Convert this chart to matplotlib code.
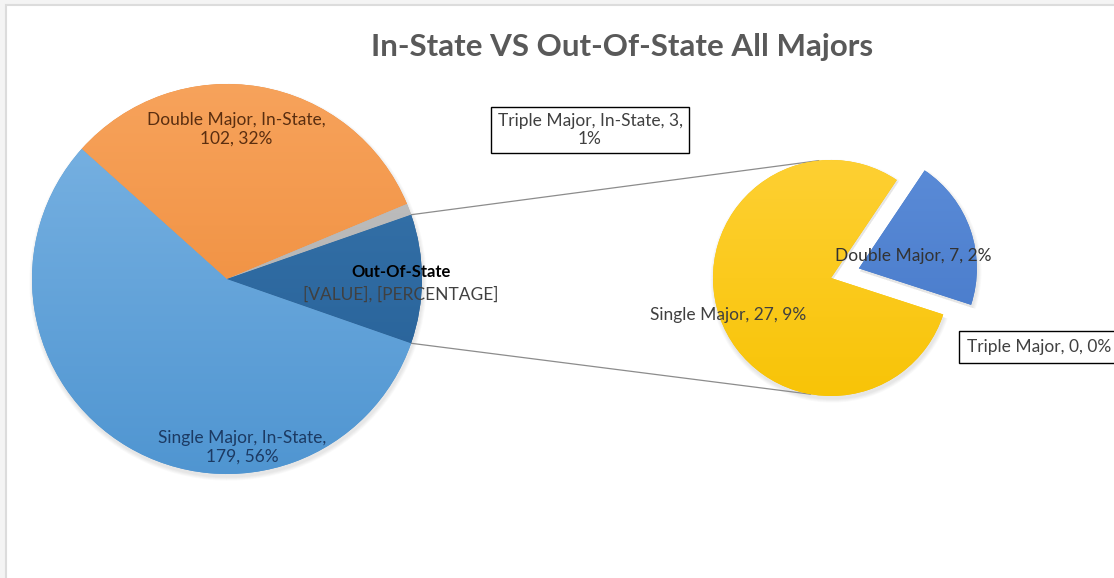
import matplotlib
matplotlib.use("Agg")
import matplotlib.pyplot as plt
import numpy as np
from matplotlib.patches import Rectangle, Wedge
from matplotlib.colors import to_rgb

# ---------------- data ----------------
main_names = ["Single Major, In-State", "Double Major, In-State", "Triple Major, In-State", "Out-Of-State"]
main_values = [179, 102, 3, 34]
main_pcts = ["56%", "32%", "1%", "[PERCENTAGE]"]

sub_names = ["Single Major", "Double Major", "Triple Major"]
sub_values = [27, 7, 0]
sub_pcts = ["9%", "2%", "0%"]

title = "In-State VS Out-Of-State All Majors"

# ---------------- style ----------------
W, H = 1114, 578
plt.rcParams['font.family'] = ['Lato', 'DejaVu Sans']
fig = plt.figure(figsize=(W / 100, H / 100), dpi=100)
fig.patch.set_facecolor("#f4f4f4")
ax = fig.add_axes([0, 0, 1, 1])


def Y(py):
    return H - py


def reset():
    ax.set_xlim(0, W)
    ax.set_ylim(0, H)
    ax.set_aspect("equal")
    ax.axis("off")


reset()
ax.add_patch(Rectangle((6, -10), W + 20, Y(5) + 10, facecolor="white",
                       edgecolor="#dcdcdc", linewidth=1.5, zorder=0))

# (top colour, bottom colour) gradients
main_grad = [("#7db5e4", "#4f95d1"), ("#f7a35c", "#ec8530"),
             ("#c4c4c4", "#a9a9a9"), ("#3a78b0", "#235c92")]
sub_grad = [("#ffd23a", "#f7c200"), ("#5f8fda", "#3f73c5"), ("#a0a0a0", "#a0a0a0")]


def shadows(wedges):
    for w in wedges:
        if abs(w.theta2 - w.theta1) < 1e-6:
            continue
        for k in range(5):
            ax.add_patch(Wedge((w.center[0] + 1, w.center[1] - 3), w.r + 0.5 + k * 0.8,
                               w.theta1, w.theta2, facecolor="black",
                               edgecolor="none", alpha=0.02, zorder=1))


def gradient_fill(wedges, grads, center, r, pad):
    x0, x1 = center[0] - r - pad, center[0] + r + pad
    y0, y1 = center[1] - r - pad, center[1] + r + pad
    t = np.linspace(0, 1, 256)[:, None, None]
    for w, (ctop, cbot) in zip(wedges, grads):
        a, b = np.array(to_rgb(ctop)), np.array(to_rgb(cbot))
        img = a[None, None, :] * (1 - t) + b[None, None, :] * t
        img = np.repeat(img, 2, axis=1)
        im = ax.imshow(img, extent=(x0, x1, y0, y1), origin="upper",
                       interpolation="bilinear", zorder=2.5, aspect="auto")
        im.set_clip_path(w)


# main pie
c1 = (227, Y(279))
r1 = 195
total = sum(main_values)
start1 = -180.0 * main_values[3] / total
w1, _ = ax.pie(main_values, colors=[g[1] for g in main_grad], startangle=start1,
               counterclock=False, center=c1, radius=r1, frame=True,
               wedgeprops=dict(linewidth=0, zorder=2))
shadows(w1)
gradient_fill(w1, main_grad, c1, r1, 5)
reset()

# secondary pie
c2 = (831, Y(278))
r2 = 118
expl = [0, 0.25 * r2, 0]
w2, _ = ax.pie(sub_values, colors=[g[1] for g in sub_grad], startangle=-18,
               counterclock=False, center=c2, radius=r2, explode=expl, frame=True,
               wedgeprops=dict(linewidth=0, zorder=2))
shadows(w2)
gradient_fill(w2, sub_grad, c2, r2, 40)
reset()

# connector lines
a = np.deg2rad(start1)
for ang1, ang2 in [(-a, 96), (a, 260)]:
    p1 = (c1[0] + r1 * np.cos(ang1), c1[1] + r1 * np.sin(ang1))
    t2 = np.deg2rad(ang2)
    p2 = (c2[0] + r2 * np.cos(t2), c2[1] + r2 * np.sin(t2))
    ax.plot([p1[0], p2[0]], [p1[1], p2[1]], color="#8c8c8c", lw=0.9, zorder=1.5)

# title
ax.text(622, Y(47), title, ha="center", va="center", fontsize=22.5,
        fontweight="bold", color="#595959", zorder=5)

fs = 12.5
ax.text(236, Y(129), f"{main_names[1]},\n{main_values[1]}, {main_pcts[1]}",
        ha="center", va="center", fontsize=fs, color="#5a2e10", zorder=5)
ax.text(242, Y(447), f"{main_names[0]},\n{main_values[0]}, {main_pcts[0]}",
        ha="center", va="center", fontsize=fs, color="#1c3a63", zorder=5)
ax.text(401, Y(272), main_names[3], ha="center", va="center", fontsize=fs - 0.5,
        fontweight="bold", color="black", zorder=5)
ax.text(401, Y(294), f"[VALUE], {main_pcts[3]}", ha="center", va="center",
        fontsize=fs, color="#404040", zorder=5)
ax.text(590, Y(130), f"{main_names[2]}, {main_values[2]},\n{main_pcts[2]}",
        ha="center", va="center", fontsize=fs, color="#404040", zorder=5,
        bbox=dict(boxstyle="square,pad=0.35", facecolor="white", edgecolor="black", lw=1))

ax.text(913, Y(256), f"{sub_names[1]}, {sub_values[1]}, {sub_pcts[1]}",
        ha="center", va="center", fontsize=fs, color="#333333", zorder=5)
ax.text(728, Y(315), f"{sub_names[0]}, {sub_values[0]}, {sub_pcts[0]}",
        ha="center", va="center", fontsize=fs, color="#404040", zorder=5)
ax.text(967, Y(347), f"{sub_names[2]}, {sub_values[2]}, {sub_pcts[2]}",
        ha="left", va="center", fontsize=fs, color="#404040", zorder=5,
        bbox=dict(boxstyle="square,pad=0.45", facecolor="white", edgecolor="black", lw=1))

fig.savefig("out.png", dpi=100, facecolor=fig.get_facecolor())
